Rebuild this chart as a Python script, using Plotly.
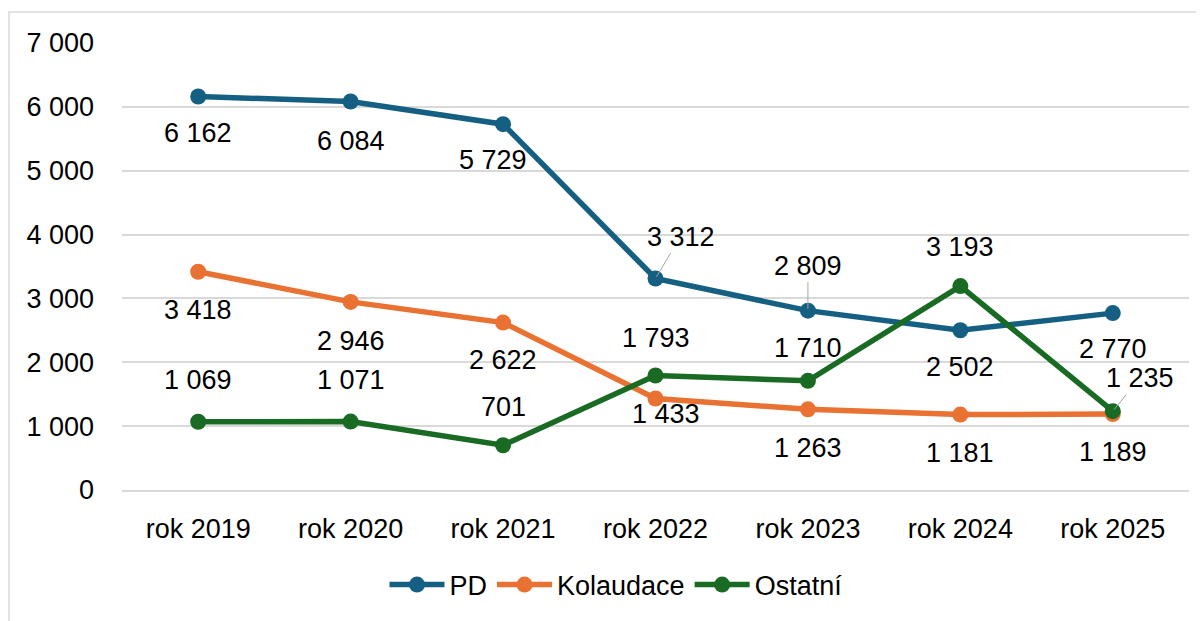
import plotly.graph_objects as go

categories = ["rok 2019", "rok 2020", "rok 2021", "rok 2022", "rok 2023", "rok 2024", "rok 2025"]
pd_values = [6162, 6084, 5729, 3312, 2809, 2502, 2770]
kolaudace_values = [3418, 2946, 2622, 1433, 1263, 1181, 1189]
ostatni_values = [1069, 1071, 701, 1793, 1710, 3193, 1235]

series = [
    ("PD", pd_values, "#156082"),
    ("Kolaudace", kolaudace_values, "#E97132"),
    ("Ostatní", ostatni_values, "#196B24"),
]

# label placement (pixel offsets: dx, dy-up, leader)
label_pos = {
    "PD": [(0, -36, False), (0, -40, False), (-10, -36, False), (25, 42, True),
           (0, 45, True), (0, -37, False), (0, -36, False)],
    "Kolaudace": [(0, -38, False), (0, -39, False), (0, -37, False), (10, -16, False),
                  (0, -39, False), (0, -38, False), (0, -38, False)],
    "Ostatní": [(0, 42, False), (0, 42, False), (0, 38, False), (0, 38, False),
                (0, 33, False), (0, 39, False), (27, 33, True)],
}

FONT = "Liberation Sans"
FS = 27
fig = go.Figure()
annotations = []
for name, vals, color in series:
    fig.add_trace(go.Scatter(
        x=categories, y=vals, name=name, mode="lines+markers",
        line=dict(color=color, width=5.5),
        marker=dict(color=color, size=16),
    ))
    for i, (c, v) in enumerate(zip(categories, vals)):
        dx, dy, leader = label_pos[name][i]
        txt = f"{v:,}".replace(",", " ")
        if leader:
            annotations.append(dict(
                x=c, y=v, text=txt, showarrow=True, arrowhead=0, arrowwidth=1,
                arrowcolor="#A6A6A6", ax=dx, ay=-dy, standoff=2,
                font=dict(family=FONT, size=FS, color="#000000"),
            ))
        else:
            annotations.append(dict(
                x=c, y=v, text=txt, showarrow=False, xshift=dx, yshift=dy,
                font=dict(family=FONT, size=FS, color="#000000"),
            ))

# page has an 8px body margin; plot area in page pixels
OFF = 8
pl, pr, pt, pb = 122 - OFF, 1189 - OFF, 43 - OFF, 490 - OFF
W, H = pr - pl, pb - pt
shapes = [dict(
    type="rect", xref="paper", yref="paper", layer="below",
    x0=(9 - OFF - pl) / W, x1=(1215 - pl) / W,
    y0=(pb - 640) / H, y1=1 + (pt - (12 - OFF)) / H,
    line=dict(color="#D9D9D9", width=1.5), fillcolor="rgba(0,0,0,0)",
)]

fig.update_layout(
    width=1204, height=621,
    margin=dict(l=pl, r=1204 - pr, t=pt, b=621 - pb),
    paper_bgcolor="white", plot_bgcolor="white",
    separators=", ",
    font=dict(family=FONT, size=FS, color="#000000"),
    showlegend=True,
    legend=dict(orientation="h", x=(616 - OFF - pl) / W, xanchor="center",
                y=(pb - (585 - OFF)) / H,
                yanchor="middle", font=dict(family=FONT, size=FS),
                itemwidth=55, traceorder="normal"),
    annotations=annotations,
    shapes=shapes,
    xaxis=dict(range=[-0.5, 6.5], showgrid=False, showline=True, linecolor="#D9D9D9",
               linewidth=1.5, ticks="", ticklabelstandoff=14,
               tickfont=dict(family=FONT, size=FS)),
    yaxis=dict(range=[0, 7000], dtick=1000, tickformat=",d", showgrid=True,
               gridcolor="#D9D9D9", gridwidth=1.5, zeroline=False, showline=False,
               ticks="", ticklabelstandoff=27, tickfont=dict(family=FONT, size=FS)),
)

fig.write_html("out.html")
